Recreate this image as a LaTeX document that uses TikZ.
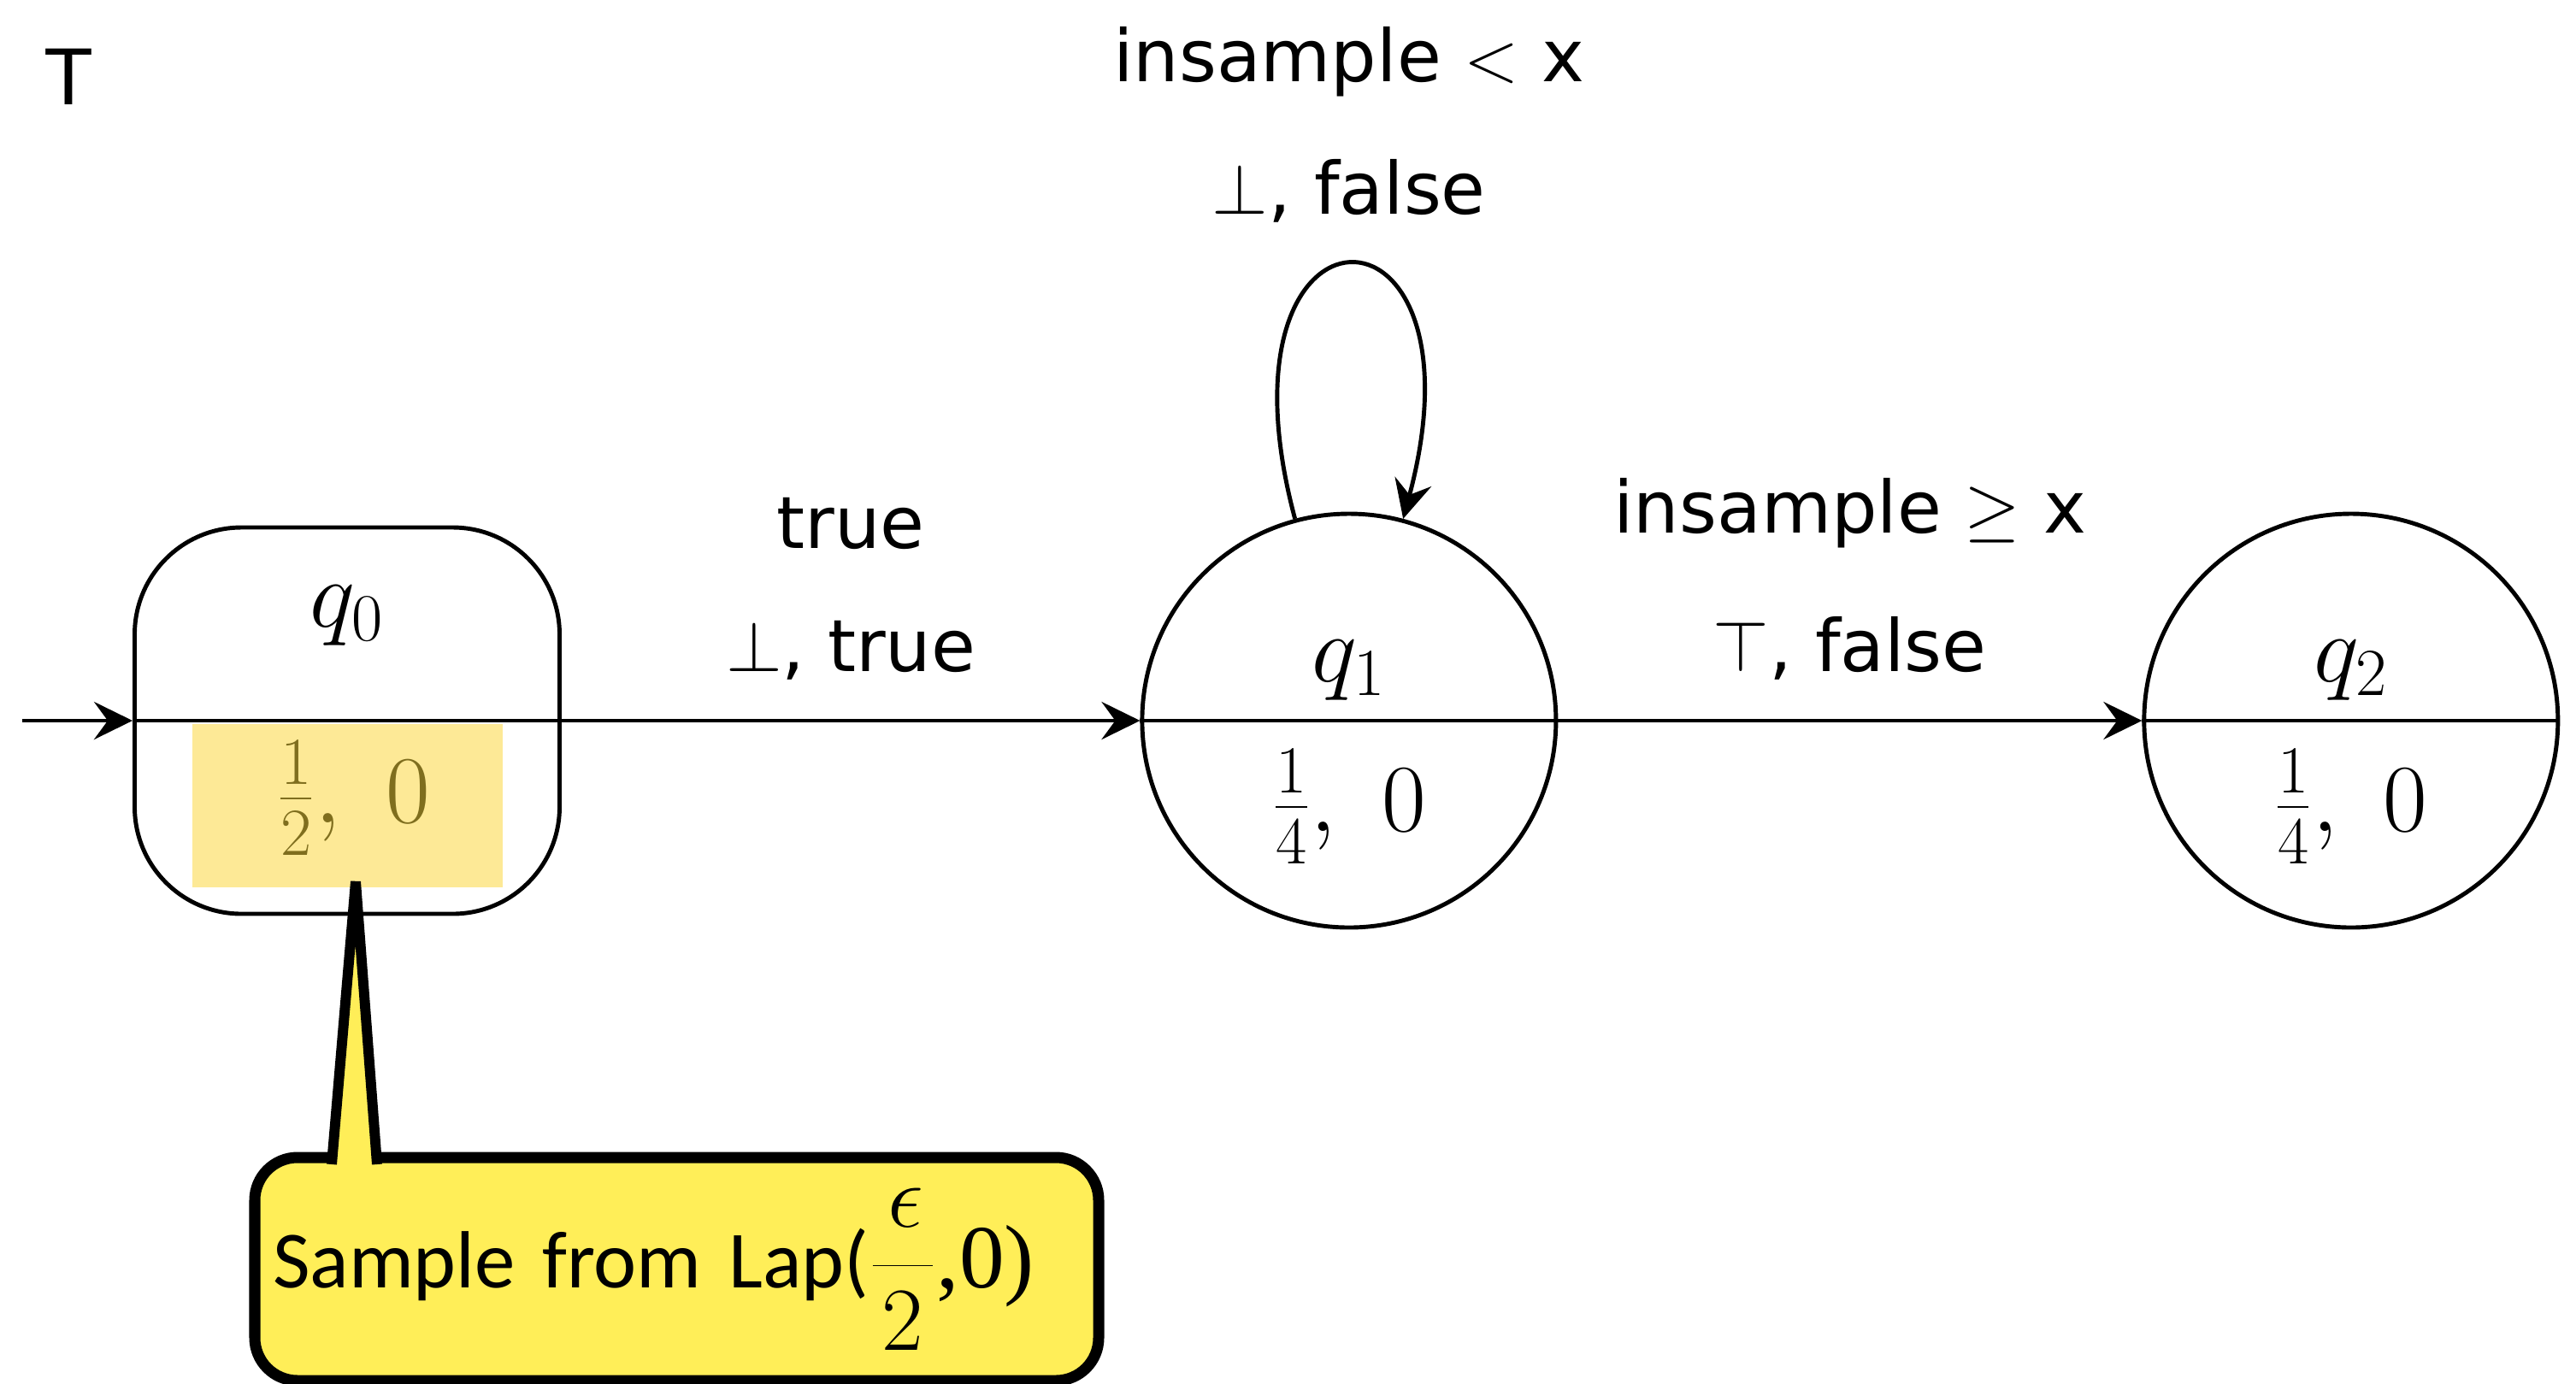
\RequirePackage{fix-cm}
\documentclass[tikz,border=0pt]{standalone}
\usepackage{fontspec}
\usetikzlibrary{arrows.meta,positioning,calc}
\newfontfamily\labfont{DejaVu Sans}
\newfontfamily\tagfont{Liberation Sans}
\newfontfamily\notefont{Carlito}
\newfontfamily\noteserif{Liberation Serif}
\definecolor{Ink}{HTML}{000000}
\definecolor{HiYellow}{HTML}{FDE996}
\definecolor{HiText}{HTML}{7F6E1E}
\definecolor{NoteYellow}{HTML}{FFEE58}

\begin{document}
\begin{tikzpicture}[
  qstate/.style={draw=Ink, line width=1.4pt, circle, minimum size=4.84cm, inner sep=0pt},
  qstart/.style={draw=Ink, line width=1.4pt, rounded corners=1.25cm, minimum width=4.97cm, minimum height=4.52cm, inner sep=0pt},
  qname/.style={anchor=base, inner sep=0pt, font=\fontsize{32}{38}\selectfont},
  qval/.style={anchor=base, inner sep=0pt, font=\fontsize{32}{38}\selectfont},
  hilite/.style={fill=HiYellow, text=HiText, minimum width=3.63cm, minimum height=1.91cm, inner sep=0pt, text depth=0.55cm, font=\fontsize{32}{38}\selectfont},
  arr/.style={-{Stealth[length=4.5mm, width=4.4mm, inset=1.6mm]}, Ink, line width=1.4pt},
  elabel/.style={align=center, inner sep=0pt, font=\labfont\fontsize{24}{41}\selectfont},
  note/.style={draw=Ink, fill=NoteYellow, line width=3.7pt, rounded corners=0.5cm, minimum width=9.87cm, minimum height=2.61cm, text width=9.45cm, align=left, inner xsep=0.21cm, outer sep=0pt, font=\notefont\fontsize{27}{33}\selectfont},
  pointer/.style={draw=Ink, fill=NoteYellow, line width=3.4pt}
]
\useasboundingbox (0,0) rectangle (30.13,-16.18);

\node[font=\tagfont\fontsize{27}{32}\selectfont, inner sep=0pt] (ttl) at (0.8,-0.9) {T};

% states
\node[qstart] (q0) at (4.06,-8.43) {};
\node[qstate, right=6.765cm of q0] (q1) {};
\node[qstate, right=6.83cm of q1] (q2) {};

\draw[line width=1.4pt] (q0.west) -- (q0.east);
\draw[line width=1.4pt] (q1.west) -- (q1.east);
\draw[line width=1.4pt] (q2.west) -- (q2.east);

\node[qname] (nm0) at ([yshift=1.10cm]q0.center) {$q_0$};
\node[qname] (nm1) at ([yshift=0.46cm]q1.center) {$q_1$};
\node[qname] (nm2) at ([yshift=0.46cm]q2.center) {$q_2$};

\node[hilite] (wt0) at ([yshift=-0.99cm]q0.center) {\hspace{0.15cm}$\frac{1}{2},\ 0$};
\node[qval] (wt1) at ([yshift=-1.29cm]q1.center) {$\frac{1}{4},\ 0$};
\node[qval] (wt2) at ([yshift=-1.29cm]q2.center) {$\frac{1}{4},\ 0$};

% edges
\coordinate[left=1.29cm of q0.west] (init);
\draw[arr] (init) -- (q0);
\draw[arr] (q0) -- node[elabel, above=0.45cm] {true\\$\bot$, true} (q1);
\draw[arr] (q1.105) .. controls +(105:4.1cm) and +(75:4.1cm) .. node[elabel, above=0.47cm] {insample $<$ x\\[0.11cm]$\bot$, false} (q1.75);
\draw[arr] (q1) -- node[elabel, above=0.45cm] {insample $\geq$ x\\[0.18cm]$\top$, false} (q2);

% callout
\node[note] (lap) at (7.915,-14.845) {Sample from Lap({\noteserif\fontsize{30}{36}\selectfont$\displaystyle\frac{\mkern3mu\epsilon\mkern2mu}{2}$,0)}};
\filldraw[pointer] ([xshift=0.90cm,yshift=-0.08cm]lap.north west) -- ([xshift=0.1cm,yshift=0.07cm]wt0.south) -- ([xshift=1.43cm,yshift=-0.08cm]lap.north west);
\end{tikzpicture}
\end{document}
